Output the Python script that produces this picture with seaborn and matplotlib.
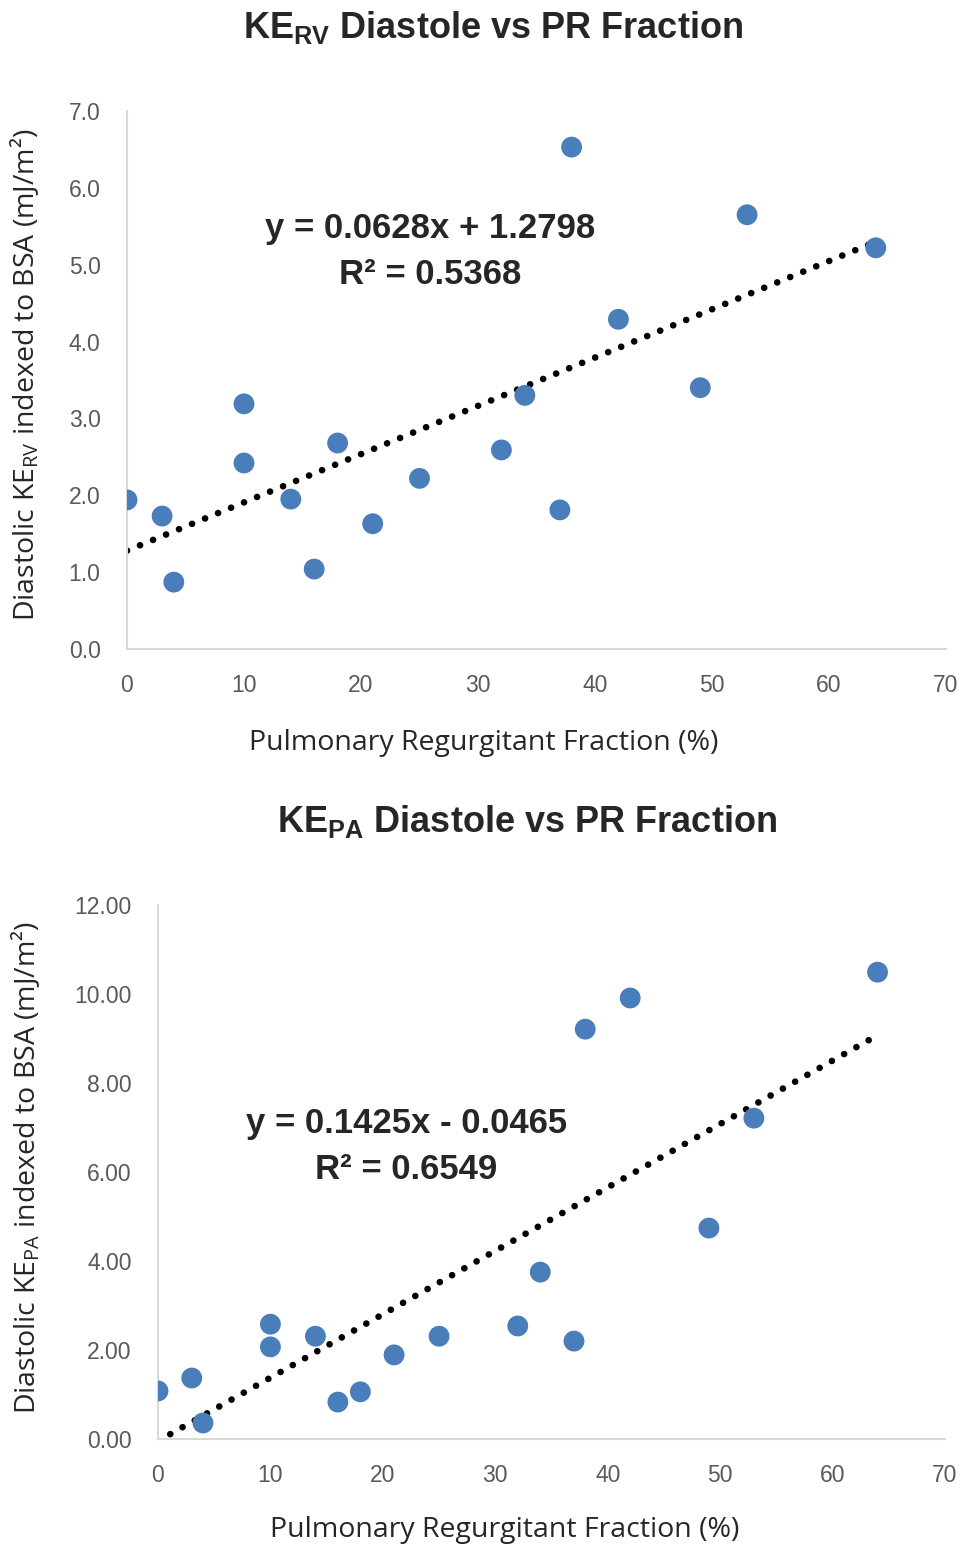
import numpy as np
import pandas as pd
import matplotlib
matplotlib.use("Agg")
import matplotlib.pyplot as plt
import seaborn as sns

sns.set_style("white")
plt.rcParams['font.family'] = ['Open Sans', 'DejaVu Sans']
plt.rcParams['mathtext.fontset'] = 'custom'

# 데이터
pr_fraction = [0, 3, 4, 10, 10, 14, 16, 18, 21, 25, 32, 34, 37, 38, 42, 49, 53, 64]
ke_rv = [1.94, 1.73, 0.87, 3.19, 2.42, 1.95, 1.04, 2.68, 1.63, 2.22, 2.59, 3.30,
         1.81, 6.53, 4.29, 3.40, 5.65, 5.22]
ke_pa = [1.08, 1.37, 0.36, 2.07, 2.58, 2.31, 0.83, 1.06, 1.89, 2.31, 2.54, 3.75,
         2.20, 9.21, 9.91, 4.74, 7.21, 10.49]

rv_slope, rv_intercept, rv_r2 = 0.0628, 1.2798, 0.5368
pa_slope, pa_intercept, pa_r2 = 0.1425, -0.0465, 0.6549

x_ticks = [0, 10, 20, 30, 40, 50, 60, 70]
rv_ticks = [0.0, 1.0, 2.0, 3.0, 4.0, 5.0, 6.0, 7.0]
pa_ticks = [0.0, 2.0, 4.0, 6.0, 8.0, 10.0, 12.0]

df = pd.DataFrame({"pr": pr_fraction, "rv": ke_rv, "pa": ke_pa})

dot_color = '#4a7ebb'
tick_color = '#595959'
spine_color = '#d9d9d9'
narrow = ['Liberation Sans Narrow', 'Liberation Sans', 'DejaVu Sans']

W, H = 966, 1547
fig = plt.figure(figsize=(W / 100, H / 100), dpi=100)


def px_axes(l, t, r, b):
    return fig.add_axes([l / W, 1 - b / H, (r - l) / W, (b - t) / H])


def draw_panel(ax, col, slope, intercept, r2, yticks, yfmt, eq_xy, sign):
    sns.scatterplot(data=df, x="pr", y=col, ax=ax, s=225, color=dot_color,
                    edgecolor='none', zorder=3)
    xs = np.array([df["pr"].min(), df["pr"].max()], dtype=float)
    line_df = pd.DataFrame({"x": xs, "y": slope * xs + intercept})
    sns.lineplot(data=line_df, x="x", y="y", ax=ax, color='black', linewidth=4.8,
                 linestyle=(0, (0.01, 2.1)), dash_capstyle='round', zorder=2)
    ax.set_xlim(0, 70)
    ax.set_ylim(yticks[0], yticks[-1])
    ax.set_xticks(x_ticks)
    ax.set_yticks(yticks)
    ax.set_xticklabels([str(v) for v in x_ticks])
    ax.set_yticklabels([yfmt.format(v) for v in yticks])
    for lab in ax.get_xticklabels() + ax.get_yticklabels():
        lab.set_family(narrow)
        lab.set_fontsize(16.5)
        lab.set_color(tick_color)
    ax.tick_params(axis='both', length=0)
    ax.tick_params(axis='y', pad=19)
    ax.tick_params(axis='x', pad=18)
    for s in ['top', 'right']:
        ax.spines[s].set_visible(False)
    for s in ['left', 'bottom']:
        ax.spines[s].set_color(spine_color)
        ax.spines[s].set_linewidth(1.5)
    eq = f"y = {slope:.4f}x {sign} {abs(intercept):.4f}\nR² = {r2:.4f}"
    ax.text(eq_xy[0], eq_xy[1], eq, ha='center', va='center', family=narrow,
            fontsize=25, fontweight='bold', linespacing=1.5)


# ▣ 1. KE_RV
ax1 = px_axes(127, 111, 946, 649)
draw_panel(ax1, "rv", rv_slope, rv_intercept, rv_r2, rv_ticks, "{:.1f}", (25.9, 5.17), '+')
ax1.set_xlabel("Pulmonary Regurgitant Fraction (%)", fontsize=20.5, color='#262626')
ax1.set_ylabel(r"Diastolic KE$_{\mathregular{RV}}$ indexed to BSA (mJ/m²)", fontsize=20.5, color='#262626')
ax1.xaxis.set_label_coords(0.435, -0.148)
ax1.yaxis.set_label_coords(-0.105, 0.509)

# ▣ 2. KE_PA
ax2 = px_axes(158, 905, 945, 1439)
draw_panel(ax2, "pa", pa_slope, pa_intercept, pa_r2, pa_ticks, "{:.2f}", (22.1, 6.58), '-')
ax2.set_xlabel("Pulmonary Regurgitant Fraction (%)", fontsize=20.5, color='#262626')
ax2.set_ylabel(r"Diastolic KE$_{\mathregular{PA}}$ indexed to BSA (mJ/m²)", fontsize=20.5, color='#262626')
ax2.xaxis.set_label_coords(0.441, -0.144)
ax2.yaxis.set_label_coords(-0.147, 0.509)

# 제목
title_font = ['Liberation Sans', 'DejaVu Sans']
fig.text(493 / W, 1 - 27 / H, r"KE$_{\mathregular{RV}}$ Diastole vs PR Fraction", ha='center', va='center',
         family=title_font, fontsize=26, fontweight='bold')
fig.text(527 / W, 1 - 822 / H, r"KE$_{\mathregular{PA}}$ Diastole vs PR Fraction", ha='center', va='center',
         family=title_font, fontsize=26, fontweight='bold')

fig.savefig("out.png", dpi=100)
